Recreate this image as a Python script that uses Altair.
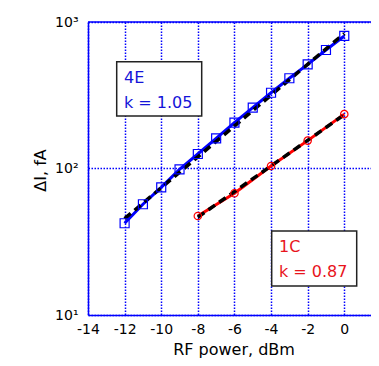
import altair as alt
import pandas as pd

# ---- data ----
power_4E = [-12, -11, -10, -9, -8, -7, -6, -5, -4, -3, -2, -1, 0]
dI_4E = [42.3, 57.0, 74.4, 98.7, 125.6, 160.7, 205.5, 260, 329, 413, 514, 644, 803]
power_1C = [-8, -6, -4, -2, 0]
dI_1C = [47.4, 67.8, 104, 155, 235]
fit_4E_x = [-12, 0]
fit_4E_y = [45.5, 835]
fit_1C_x = [-8, 0]
fit_1C_y = [46.5, 233]
x_ticks = [-14, -12, -10, -8, -6, -4, -2, 0]
y_ticks = [10, 100, 1000]
y_tick_labels = ["10¹", "10²", "10³"]
label_4E = ["4E", "k = 1.05"]
label_1C = ["1C", "k = 0.87"]

df_4E = pd.DataFrame({"P": power_4E, "dI": dI_4E})
df_1C = pd.DataFrame({"P": power_1C, "dI": dI_1C})
df_f4E = pd.DataFrame({"P": fit_4E_x, "dI": fit_4E_y})
df_f1C = pd.DataFrame({"P": fit_1C_x, "dI": fit_1C_y})
one = pd.DataFrame({"k": [0]})

W, H = 283, 293
FONT = "DejaVu Sans"
BLUE = "#0000ff"
RED = "#ff0000"

label_expr = " : ".join(
    f"datum.value == {v} ? '{l}'" for v, l in zip(y_ticks[:-1], y_tick_labels[:-1])
) + f" : '{y_tick_labels[-1]}'"

x_scale = alt.Scale(domain=[-14, 1.46], nice=False, zero=False)
y_scale = alt.Scale(type="log", domain=[10, 1000], nice=False)

x_axis = alt.Axis(values=x_ticks, labelExpr="'' + datum.value", title="RF power, dBm",
                  grid=True, ticks=False, labelPadding=7, labelFlush=False,
                  labelOverlap=False, titleX=145.5, titleY=39, titleBaseline="alphabetic")
y_axis = alt.Axis(values=y_ticks, labelExpr=label_expr, title="ΔI, fA", grid=True,
                  ticks=False, labelPadding=10, labelFlush=False, labelOverlap=False,
                  titleX=-43, titleY=148, titleBaseline="alphabetic")

X = alt.X("P:Q", scale=x_scale, axis=x_axis)
Y = alt.Y("dI:Q", scale=y_scale, axis=y_axis)

top_line = alt.Chart(one).mark_rule(color=BLUE, strokeWidth=1.5).encode(
    x=alt.value(0), x2=alt.value(W), y=alt.value(0))

line_4E = alt.Chart(df_4E).mark_line(color=BLUE, strokeWidth=3).encode(x=X, y=Y)
fit4 = alt.Chart(df_f4E).mark_line(color="black", strokeWidth=3.5, strokeDash=[8, 5]).encode(x=X, y=Y)
pts_4E = alt.Chart(df_4E).mark_point(shape="square", size=81, filled=False, color=BLUE,
                                     strokeWidth=1.2, opacity=1).encode(x=X, y=Y)

line_1C = alt.Chart(df_1C).mark_line(color=RED, strokeWidth=3).encode(x=X, y=Y)
fit1 = alt.Chart(df_f1C).mark_line(color="black", strokeWidth=3.5, strokeDash=[8, 5]).encode(x=X, y=Y)
pts_1C = alt.Chart(df_1C).mark_point(shape="circle", size=55, filled=False, color=RED,
                                     strokeWidth=1.2, opacity=1).encode(x=X, y=Y)

txt = dict(font=FONT, fontSize=16, align="left", baseline="alphabetic")

box1 = alt.Chart(one).mark_rect(fill="white", stroke="#222222", strokeWidth=1.5).encode(
    x=alt.value(28.7), x2=alt.value(113.7), y=alt.value(39.7), y2=alt.value(94))
t1a = alt.Chart(one).mark_text(text=label_4E[0], color="#1414d8", **txt).encode(
    x=alt.value(36), y=alt.value(61.3))
t1b = alt.Chart(one).mark_text(text=label_4E[1], color="#1414d8", **txt).encode(
    x=alt.value(36), y=alt.value(85.7))

box2 = alt.Chart(one).mark_rect(fill="white", stroke="#222222", strokeWidth=1.5).encode(
    x=alt.value(183.7), x2=alt.value(268.7), y=alt.value(209), y2=alt.value(264))
t2a = alt.Chart(one).mark_text(text=label_1C[0], color="#e8141c", **txt).encode(
    x=alt.value(191), y=alt.value(229.7))
t2b = alt.Chart(one).mark_text(text=label_1C[1], color="#e8141c", **txt).encode(
    x=alt.value(191), y=alt.value(254.7))

chart = alt.layer(
    line_4E, fit4, pts_4E, line_1C, fit1, pts_1C, top_line,
    box1, t1a, t1b, box2, t2a, t2b
).properties(
    width=W, height=H,
    autosize=alt.AutoSizeParams(type="none"),
    padding={"left": 80, "top": 14, "right": 0, "bottom": 43},
).configure_view(stroke=None).configure_axis(
    domainColor=BLUE, domainWidth=1.5,
    gridColor=BLUE, gridOpacity=1, gridWidth=1.5, gridDash=[1.5, 1.5],
    labelFont=FONT, labelFontSize=14, labelColor="black",
    titleFont=FONT, titleFontSize=16, titleFontWeight="normal", titleColor="black",
)

chart.save("out.html", embed_options={"renderer": "svg", "actions": False})
